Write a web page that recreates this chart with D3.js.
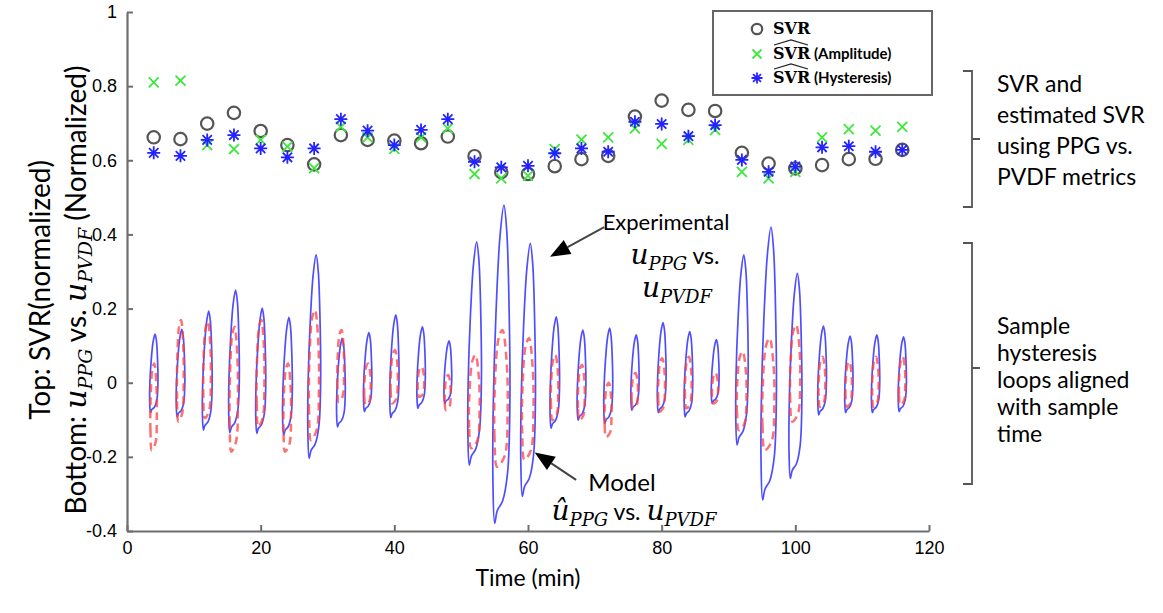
<!DOCTYPE html>
<html><head><meta charset="utf-8">
<script src="https://cdn.jsdelivr.net/npm/d3@7"></script>
<style>
body{margin:0;background:#fff;}
svg{display:block;}
</style></head><body>
<svg id="chart" width="1163" height="613"></svg>
<script>
// ---------- data ----------
const sampleTimes = [4,8,12,16,20,24,28,32,36,40,44,48,52,56,60,64,68,72,76,80,84,88,92,96,100,104,108,112,116];
const svr =           [0.662,0.657,0.699,0.728,0.679,0.641,0.589,0.668,0.655,0.653,0.646,0.664,0.611,0.568,0.563,0.584,0.603,0.612,0.718,0.761,0.736,0.733,0.620,0.591,0.578,0.587,0.603,0.604,0.628];
const svrAmplitude =  [0.810,0.815,0.641,0.630,0.655,0.637,0.579,0.690,0.662,0.631,0.662,0.686,0.563,0.551,0.558,0.630,0.656,0.662,0.686,0.644,0.655,0.682,0.569,0.551,0.569,0.662,0.684,0.680,0.690];
const svrHysteresis = [0.620,0.612,0.655,0.668,0.632,0.608,0.632,0.711,0.680,0.641,0.682,0.711,0.596,0.581,0.585,0.619,0.632,0.623,0.704,0.698,0.665,0.695,0.601,0.569,0.583,0.635,0.638,0.623,0.628];
// hysteresis loop extents (experimental u_PPG vs u_PVDF, and model)
const expTop =      [0.131,0.144,0.193,0.250,0.201,0.176,0.345,0.120,0.135,0.183,0.151,0.113,0.380,0.479,0.376,0.178,0.142,0.147,0.129,0.162,0.138,0.116,0.345,0.420,0.295,0.153,0.126,0.129,0.124];
const expBottom =   [-0.081,-0.092,-0.128,-0.135,-0.137,-0.141,-0.204,-0.119,-0.078,-0.094,-0.069,-0.056,-0.222,-0.379,-0.307,-0.123,-0.101,-0.110,-0.074,-0.081,-0.092,-0.056,-0.168,-0.316,-0.258,-0.087,-0.081,-0.081,-0.078];
const modelTop =    [0.052,0.169,0.165,0.151,0.169,0.052,0.196,0.142,0.052,0.088,0.043,0.021,0.075,0.142,0.120,0.075,0.048,0.000,0.026,0.066,0.070,0.027,0.084,0.120,0.156,0.070,0.057,0.070,0.070];
const modelBottom = [-0.182,-0.105,-0.096,-0.186,-0.119,-0.186,-0.155,-0.052,-0.060,-0.056,-0.038,-0.074,-0.177,-0.227,-0.208,-0.101,-0.101,-0.147,-0.068,-0.078,-0.069,-0.056,-0.128,-0.182,-0.105,-0.065,-0.065,-0.065,-0.060];
const xTicks = [0,20,40,60,80,100,120];
const yTicks = [-0.4,-0.2,0,0.2,0.4,0.6,0.8,1];
const xTickLabels = ["0","20","40","60","80","100","120"];
const yTickLabels = ["-0.4","-0.2","0","0.2","0.4","0.6","0.8","1"];

// ---------- layout ----------
const svg = d3.select("#chart");
const L = 127, R = 929, T = 12, B = 531;
const x = d3.scaleLinear().domain([0,120]).range([L,R]);
const y = d3.scaleLinear().domain([-0.4,1]).range([B,T]);
const sans = "Lato, 'Open Sans', sans-serif";
const serif = "'DejaVu Serif', 'Liberation Serif', serif";
const axisColor = "#6e6e6e";

// ---------- loops ----------
const expShape = [[-0.75,0],[-0.95,0.14],[-0.9,0.38],[-0.6,0.66],[-0.15,0.9],[0.3,1],[0.62,0.92],[0.9,0.66],[0.98,0.38],[0.72,0.16],[0.15,0.07],[-0.45,0.04]];
const modelShape = [[-0.55,0],[-0.9,0.22],[-0.85,0.6],[-0.35,0.94],[0.15,1],[0.7,0.78],[0.85,0.4],[0.45,0.08]];
const lineGen = d3.line().curve(d3.curveCatmullRomClosed.alpha(0.5));
function loopPath(t, top, bot, w, shape){
  return lineGen(shape.map(([dx,f]) => [x(t)+dx*w, y(bot+f*(top-bot))]));
}
const loops = sampleTimes.map((t,i)=>({t, et:expTop[i], eb:expBottom[i], mt:modelTop[i], mb:modelBottom[i]}));
const gLoops = svg.append("g");
const loopHalfWidth = d => 2.8 + 7*(d.et-d.eb);
loops.forEach(d=>{
  gLoops.append("path").attr("d", loopPath(d.t,d.et,d.eb,loopHalfWidth(d),expShape))
    .attr("fill","none").attr("stroke","#3b3bff").attr("stroke-width",1.7).attr("opacity",0.9);
});
loops.forEach(d=>{
  gLoops.append("path").attr("d", loopPath(d.t,d.mt,d.mb,loopHalfWidth(d)*0.85,modelShape))
    .attr("fill","none").attr("stroke","#ff4040").attr("stroke-width",2.5)
    .attr("stroke-dasharray","8,5").attr("opacity",0.75);
});

// ---------- scatter ----------
const gPts = svg.append("g");
function drawCircle(g,cx,cy,r){ g.append("circle").attr("cx",cx).attr("cy",cy).attr("r",r).attr("fill","none").attr("stroke","#555").attr("stroke-width",2.2); }
function drawX(g,cx,cy,s){ g.append("path").attr("d",`M${cx-s},${cy-s}L${cx+s},${cy+s}M${cx-s},${cy+s}L${cx+s},${cy-s}`).attr("stroke","#3de83d").attr("stroke-width",1.8).attr("fill","none"); }
function drawStar(g,cx,cy,s){ const d2=s*0.72; g.append("path").attr("d",`M${cx-s},${cy}L${cx+s},${cy}M${cx},${cy-s}L${cx},${cy+s}M${cx-d2},${cy-d2}L${cx+d2},${cy+d2}M${cx-d2},${cy+d2}L${cx+d2},${cy-d2}`).attr("stroke","#2323ff").attr("stroke-width",1.8).attr("fill","none"); }
sampleTimes.forEach((t,i)=>drawCircle(gPts,x(t),y(svr[i]),6.2));
sampleTimes.forEach((t,i)=>drawX(gPts,x(t),y(svrAmplitude[i]),5));
sampleTimes.forEach((t,i)=>drawStar(gPts,x(t),y(svrHysteresis[i]),6.5));

// ---------- axes ----------
const yAxis = d3.axisLeft(y).tickValues(yTicks).tickSizeInner(-6).tickSizeOuter(0).tickPadding(10)
  .tickFormat((d,i)=>yTickLabels[i]);
const xAxis = d3.axisBottom(x).tickValues(xTicks).tickSizeInner(-6).tickSizeOuter(0).tickPadding(10)
  .tickFormat((d,i)=>xTickLabels[i]);
const gy = svg.append("g").attr("transform",`translate(${L},0)`).call(yAxis);
const gx = svg.append("g").attr("transform",`translate(0,${B})`).call(xAxis);
[gx,gy].forEach(g=>{
  g.select(".domain").attr("stroke",axisColor).attr("stroke-width",2.2);
  g.selectAll(".tick line").attr("stroke",axisColor).attr("stroke-width",2);
  g.selectAll(".tick text").attr("fill","#000").attr("font-family","'Liberation Sans', Arial, sans-serif").attr("font-size",18);
});

// axis titles
svg.append("text").attr("x",x(60)).attr("y",586).attr("text-anchor","middle")
  .attr("font-family",sans).attr("font-size",23).text("Time (min)");
const yl = svg.append("g").attr("transform",`translate(0,290) rotate(-90)`);
yl.append("text").attr("x",0).attr("y",50).attr("text-anchor","middle")
  .attr("font-family",sans).attr("font-size",28).text("Top: SVR(normalized)");
const yl2 = yl.append("text").attr("x",0).attr("y",86).attr("text-anchor","middle")
  .attr("font-family",sans).attr("font-size",28);
yl2.append("tspan").text("Bottom:  ");
yl2.append("tspan").attr("font-family",serif).attr("font-style","italic").attr("font-size",30).text("u");
yl2.append("tspan").attr("font-family",serif).attr("font-style","italic").attr("font-size",19).attr("dy",6).text("PPG");
yl2.append("tspan").attr("dy",-6).text(" vs. ");
yl2.append("tspan").attr("font-family",serif).attr("font-style","italic").attr("font-size",30).text("u");
yl2.append("tspan").attr("font-family",serif).attr("font-style","italic").attr("font-size",19).attr("dy",6).text("PVDF");
yl2.append("tspan").attr("dy",-6).text(" (Normalized)");

// ---------- legend ----------
const lg = svg.append("g");
lg.append("rect").attr("x",713).attr("y",11).attr("width",219).attr("height",84)
  .attr("fill","#fff").attr("stroke","#666").attr("stroke-width",2);
const legRows = [29,54,78];
drawCircle(lg,757,legRows[0],5.2);
drawX(lg,757,legRows[1],4.5);
drawStar(lg,757,legRows[2],5.5);
const legLabels = ["", "(Amplitude)", "(Hysteresis)"];
legRows.forEach((ry,i)=>{
  const t = lg.append("text").attr("x",773).attr("y",ry+5).attr("font-size",15).attr("font-weight","bold");
  t.append("tspan").attr("font-family",serif).attr("font-size",16).text("SVR");
  if(i>0){
    t.append("tspan").attr("font-family",sans).text(" "+legLabels[i]);
    lg.append("path").attr("d",`M774,${ry-9}L791,${ry-14}L808,${ry-9}`).attr("fill","none").attr("stroke","#222").attr("stroke-width",1.3);
  }
});

// ---------- annotations ----------
function arrow(x1,y1,x2,y2){
  const dx=x2-x1, dy=y2-y1, len=Math.hypot(dx,dy), ux=dx/len, uy=dy/len;
  const hl=20, hw=8;
  const bx=x2-ux*hl, by=y2-uy*hl;
  svg.append("line").attr("x1",x1).attr("y1",y1).attr("x2",bx).attr("y2",by).attr("stroke","#444").attr("stroke-width",2);
  svg.append("path").attr("d",`M${x2},${y2}L${bx-uy*hw},${by+ux*hw}L${bx+uy*hw},${by-ux*hw}Z`).attr("fill","#000");
}
arrow(x(71.4),y(0.42),x(63.3),y(0.34));
arrow(x(67.2),y(-0.262),x(61.0),y(-0.188));

function mathLine(xc,yb,parts){
  const t = svg.append("text").attr("x",xc).attr("y",yb).attr("text-anchor","middle").attr("font-family",sans).attr("font-size",23);
  parts.forEach(p=>{
    const s=t.append("tspan").text(p.s);
    if(p.m){ s.attr("font-family",serif).attr("font-style","italic").attr("font-size",p.sub?18:28); }
    if(p.dy) s.attr("dy",p.dy);
  });
  return t;
}
svg.append("text").attr("x",666).attr("y",230).attr("text-anchor","middle").attr("font-family",sans).attr("font-size",22).text("Experimental");
mathLine(675,264,[{s:"u",m:1},{s:"PPG",m:1,sub:1,dy:6},{s:" vs.",dy:-6}]);
mathLine(677,297,[{s:"u",m:1},{s:"PVDF",m:1,sub:1,dy:6}]);
svg.append("text").attr("x",622).attr("y",491).attr("text-anchor","middle").attr("font-family",sans).attr("font-size",24).text("Model");
mathLine(634,520,[{s:"û",m:1},{s:"PPG",m:1,sub:1,dy:6},{s:" vs. ",dy:-6},{s:"u",m:1},{s:"PVDF",m:1,sub:1,dy:6}]);

// brackets
function bracket(y1,y2,ym){
  svg.append("path").attr("d",`M963,${y1}L972,${y1}L972,${y2}L963,${y2}M972,${ym}L980,${ym}`)
    .attr("fill","none").attr("stroke","#555").attr("stroke-width",1.8);
}
bracket(71,207,139);
bracket(243,484,368);
const rt1 = ["SVR and","estimated SVR","using PPG vs.","PVDF metrics"];
rt1.forEach((s,i)=>svg.append("text").attr("x",997).attr("y",92+i*31).attr("font-family",sans).attr("font-size",23).text(s));
const rt2 = ["Sample","hysteresis","loops aligned","with sample","time"];
rt2.forEach((s,i)=>svg.append("text").attr("x",997).attr("y",334+i*27).attr("font-family",sans).attr("font-size",23).text(s));
</script>
</body></html>
